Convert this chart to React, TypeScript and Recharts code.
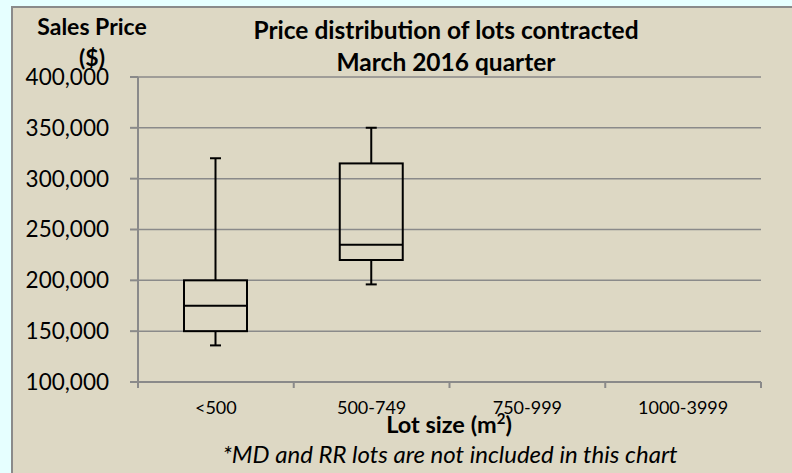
import React from 'react';
import { ComposedChart, Bar, XAxis, YAxis, CartesianGrid } from 'recharts';

const categories = ['<500', '500-749', '750-999', '1000-3999'];
const whiskerLow: (number | null)[] = [136000, 196000, null, null];
const quartile1: (number | null)[] = [150000, 220000, null, null];
const medians: (number | null)[] = [175000, 235000, null, null];
const quartile3: (number | null)[] = [200000, 315000, null, null];
const whiskerHigh: (number | null)[] = [320000, 350000, null, null];
const yTicks = [100000, 150000, 200000, 250000, 300000, 350000, 400000];

const data = categories.map((cat, i) => ({
  cat,
  min: whiskerLow[i],
  q1: quartile1[i],
  median: medians[i],
  q3: quartile3[i],
  max: whiskerHigh[i],
  range: whiskerLow[i] == null ? null : [whiskerLow[i], whiskerHigh[i]],
}));

const FONT = 'Lato, "Open Sans", sans-serif';
const GRID = '#8a8a8a';

const BoxShape = (props: any) => {
  const { x, y, width, height, payload } = props;
  if (!payload || payload.min == null || height == null || !isFinite(height) || height <= 0) return null;
  const { min, q1, median, q3, max } = payload;
  const k = height / (max - min);
  const yOf = (v: number) => y + (max - v) * k;
  const cx = x + width / 2;
  const cap = 5.5;
  const sw = 2;
  return (
    <g stroke="#000" strokeWidth={sw} fill="none">
      <line x1={cx} x2={cx} y1={yOf(max)} y2={yOf(q3)} />
      <line x1={cx} x2={cx} y1={yOf(q1)} y2={yOf(min)} />
      <line x1={cx - cap} x2={cx + cap} y1={yOf(max)} y2={yOf(max)} />
      <line x1={cx - cap} x2={cx + cap} y1={yOf(min)} y2={yOf(min)} />
      <rect x={x} y={yOf(q3)} width={width} height={yOf(q1) - yOf(q3)} />
      <line x1={x} x2={x + width} y1={yOf(median)} y2={yOf(median)} />
    </g>
  );
};

const XTick = (props: any) => {
  const { x, y, payload, index, visibleTicksCount } = props;
  const off = payload && typeof payload.offset === 'number' ? payload.offset : 623 / categories.length / 2;
  const isLast = index === (visibleTicksCount ?? categories.length) - 1;
  return (
    <g>
      <line x1={x - off} x2={x - off} y1={y} y2={y + 6} stroke={GRID} strokeWidth={2} />
      {isLast && <line x1={x + off} x2={x + off} y1={y} y2={y + 6} stroke={GRID} strokeWidth={2} />}
      <text x={x} y={y + 32} textAnchor="middle" fontFamily={FONT} fontSize={18} fill="#000">
        {payload.value}
      </text>
    </g>
  );
};

export default function App() {
  return (
    <div style={{ position: 'absolute', left: 0, top: 0, width: 792, height: 473, background: '#E6FFFF', overflow: 'hidden' }}>
      <div
        style={{
          position: 'absolute',
          left: 11,
          top: 6,
          right: 0,
          bottom: 0,
          background: '#DDD8C4',
          borderLeft: '2px solid #8a8a8a',
          borderTop: '2px solid #8a8a8a',
        }}
      />
      <div style={{ position: 'absolute', left: 0, top: 0 }}>
        <ComposedChart width={792} height={473} data={data} margin={{ top: 77, right: 31, left: 0, bottom: 0 }}>
          <CartesianGrid vertical={false} stroke={GRID} strokeWidth={1.5} />
          <XAxis
            dataKey="cat"
            height={91}
            axisLine={{ stroke: GRID, strokeWidth: 2 }}
            tickLine={false}
            tickSize={0}
            tickMargin={0}
            tick={<XTick />}
            interval={0}
          />
          <YAxis
            width={138}
            domain={[100000, 400000]}
            ticks={yTicks}
            type="number"
            allowDataOverflow
            axisLine={{ stroke: GRID, strokeWidth: 2 }}
            tickLine={{ stroke: GRID, strokeWidth: 2 }}
            tickSize={8}
            tickMargin={21}
            tickFormatter={(v: number) => v.toLocaleString('en-US')}
            tick={{ fontFamily: FONT, fontSize: 22.5, fill: '#000' }}
          />
          <Bar dataKey="range" barSize={63} shape={BoxShape} isAnimationActive={false} />
        </ComposedChart>
      </div>
      <svg width={792} height={473} style={{ position: 'absolute', left: 0, top: 0, pointerEvents: 'none' }}>
        <g fontFamily={FONT} fill="#000">
          <text x={92} y={35} textAnchor="middle" fontWeight="bold" fontSize={23}>Sales Price</text>
          <text x={92} y={66} textAnchor="middle" fontWeight="bold" fontSize={23}>($)</text>
          <text x={446} y={39} textAnchor="middle" fontWeight="bold" fontSize={24.5}>Price distribution of lots contracted</text>
          <text x={446} y={71} textAnchor="middle" fontWeight="bold" fontSize={24.5}>March 2016 quarter</text>
          <text x={449} y={433} textAnchor="middle" fontWeight="bold" fontSize={23.5}>
            Lot size (m<tspan fontSize={15} dy={-9}>2</tspan><tspan dy={9}>)</tspan>
          </text>
          <text x={450} y={463} textAnchor="middle" fontStyle="italic" fontSize={24}>*MD and RR lots are not included in this chart</text>
        </g>
      </svg>
    </div>
  );
}
